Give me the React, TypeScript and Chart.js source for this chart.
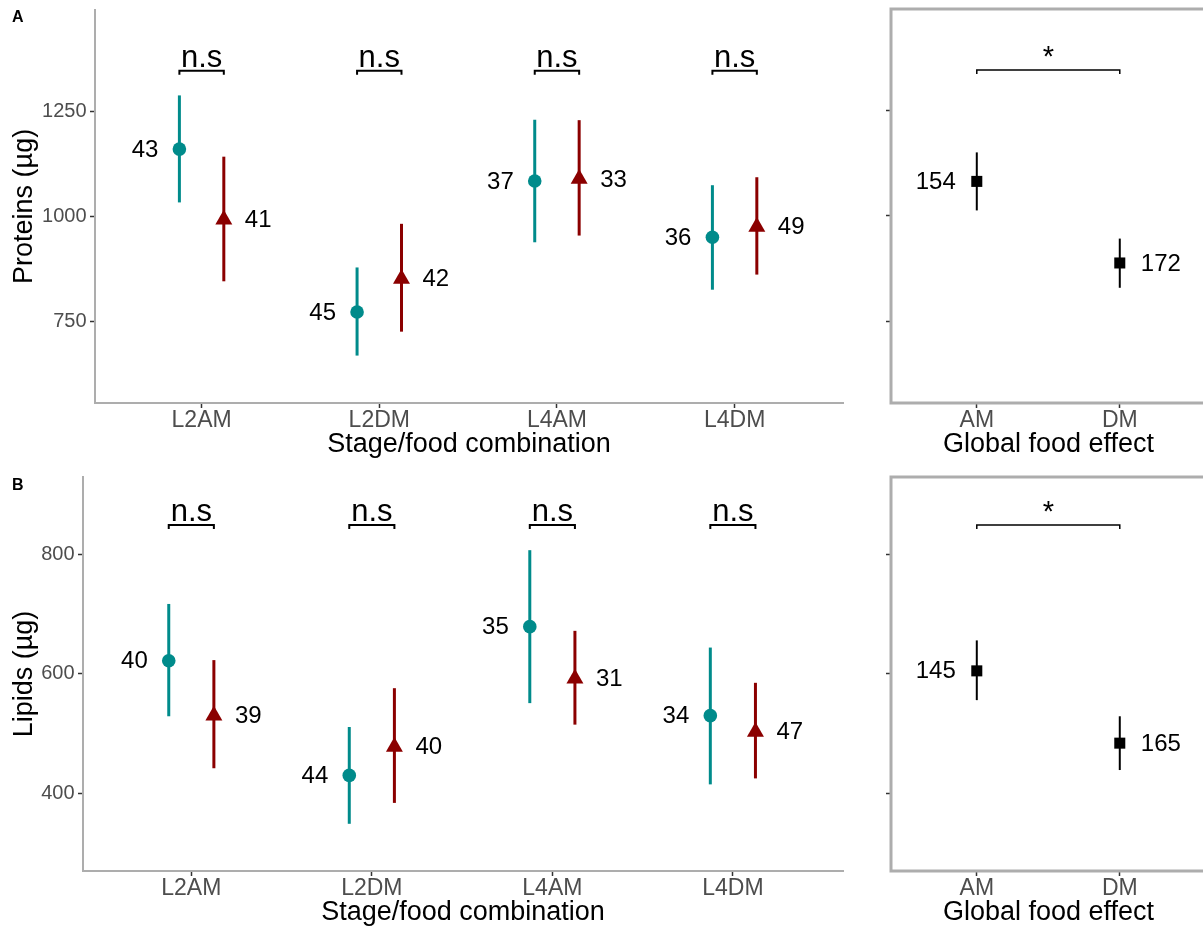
import React, { useEffect, useRef } from 'react';
import { Chart, registerables } from 'chart.js';

Chart.register(...registerables);

const FONT = '"Liberation Sans", Arial, Helvetica, sans-serif';
const TEAL = '#008B8B';
const DARKRED = '#8B0000';
const BLACK = '#000000';

// ---------------- data ----------------
const stageCategories = ['L2AM', 'L2DM', 'L4AM', 'L4DM'];
const foodCategories = ['AM', 'DM'];

const proteinTicks = [750, 1000, 1250];
const lipidTicks = [400, 600, 800];

// Proteins by stage/food combination — teal circles
const proteinTealMean = [1160, 772, 1084, 950];
const proteinTealLow = [1033, 668, 938, 825];
const proteinTealHigh = [1288, 878, 1230, 1074];
const proteinTealN = [43, 45, 37, 36];
// Proteins by stage/food combination — dark red triangles
const proteinRedMean = [992, 851, 1089, 975];
const proteinRedLow = [845, 725, 954, 861];
const proteinRedHigh = [1142, 982, 1229, 1093];
const proteinRedN = [41, 42, 33, 49];
// Proteins, global food effect
const proteinFoodMean = [1082, 888];
const proteinFoodLow = [1013, 829];
const proteinFoodHigh = [1151, 946];
const proteinFoodN = [154, 172];

// Lipids by stage/food combination — teal circles
const lipidTealMean = [622, 430, 679, 530];
const lipidTealLow = [529, 349, 551, 415];
const lipidTealHigh = [717, 511, 807, 644];
const lipidTealN = [40, 44, 35, 34];
// Lipids by stage/food combination — dark red triangles
const lipidRedMean = [530, 478, 592, 503];
const lipidRedLow = [442, 384, 515, 425];
const lipidRedHigh = [623, 576, 672, 585];
const lipidRedN = [39, 40, 31, 47];
// Lipids, global food effect
const lipidFoodMean = [605, 484];
const lipidFoodLow = [556, 439];
const lipidFoodHigh = [656, 529];
const lipidFoodN = [145, 165];

// significance annotations
const stageSignif = ['n.s', 'n.s', 'n.s', 'n.s'];
const foodSignif = ['*'];
const proteinBracketY = 1347;
const lipidBracketY = 849;

const proteinRange = [555, 1492];
const lipidRange = [270, 929.5];

// ---------------- chart builder ----------------
type Series = {
  mean: number[];
  low: number[];
  high: number[];
  n: number[];
  color: string;
  shape: string;
  radius: number;
  offset: number;
  barWidth: number;
  sides: ('left' | 'right')[];
};

type Spec = {
  categories: string[];
  series: Series[];
  yRange: number[];
  yTicks: number[];
  xMin: number;
  xMax: number;
  yTitle?: string;
  xTitle: string;
  box: boolean;
  bracketY: number;
  bracketPairs: number[][];
  bracketTexts: string[];
  bracketLineWidth: number;
  bracketFont: number;
  letter?: string;
  letterY?: number;
  top: number;
  right: number;
  yAxisWidth: number;
  xAxisHeight: number;
  xTitlePad: number;
};

function buildChart(canvas: HTMLCanvasElement, spec: Spec) {
  const datasets = spec.series.map((s) => ({
    data: s.mean.map((v, i) => ({ x: i + 1 + s.offset, y: v })),
    pointStyle: s.shape,
    pointRadius: s.radius,
    pointHoverRadius: s.radius,
    backgroundColor: s.color,
    borderColor: s.color,
    borderWidth: 0,
    showLine: false,
    clip: false,
  }));

  const overlay = {
    id: 'overlay',
    beforeDatasetsDraw(chart: any) {
      const { ctx, chartArea: a } = chart;
      const x = chart.scales.x;
      const y = chart.scales.y;
      ctx.save();
      if (spec.box) {
        ctx.strokeStyle = '#ADADAD';
        ctx.lineWidth = 3;
        ctx.strokeRect(a.left, a.top, a.right - a.left, a.bottom - a.top);
      }
      ctx.lineCap = 'butt';
      for (const s of spec.series) {
        ctx.strokeStyle = s.color;
        ctx.lineWidth = s.barWidth;
        s.mean.forEach((_, i) => {
          const px = x.getPixelForValue(i + 1 + s.offset);
          ctx.beginPath();
          ctx.moveTo(px, y.getPixelForValue(s.low[i]));
          ctx.lineTo(px, y.getPixelForValue(s.high[i]));
          ctx.stroke();
        });
      }
      ctx.restore();
    },
    afterDatasetsDraw(chart: any) {
      const { ctx } = chart;
      const x = chart.scales.x;
      const y = chart.scales.y;
      ctx.save();
      // counts
      ctx.fillStyle = BLACK;
      ctx.font = `24px ${FONT}`;
      ctx.textBaseline = 'middle';
      for (const s of spec.series) {
        s.mean.forEach((v, i) => {
          const px = x.getPixelForValue(i + 1 + s.offset);
          const py = y.getPixelForValue(v);
          if (s.sides[i] === 'left') {
            ctx.textAlign = 'right';
            ctx.fillText(String(s.n[i]), px - 21, py + 1);
          } else {
            ctx.textAlign = 'left';
            ctx.fillText(String(s.n[i]), px + 21, py + 1);
          }
        });
      }
      // brackets
      const yb = y.getPixelForValue(spec.bracketY);
      ctx.strokeStyle = BLACK;
      ctx.lineWidth = spec.bracketLineWidth;
      ctx.font = `${spec.bracketFont}px ${FONT}`;
      ctx.textAlign = 'center';
      ctx.textBaseline = 'alphabetic';
      spec.bracketPairs.forEach((p, i) => {
        const x1 = x.getPixelForValue(p[0]);
        const x2 = x.getPixelForValue(p[1]);
        ctx.beginPath();
        ctx.moveTo(x1, yb + 4);
        ctx.lineTo(x1, yb);
        ctx.lineTo(x2, yb);
        ctx.lineTo(x2, yb + 4);
        ctx.stroke();
        ctx.fillText(spec.bracketTexts[i], (x1 + x2) / 2, yb - 4);
      });
      // panel letter
      if (spec.letter) {
        ctx.font = `bold 16px ${FONT}`;
        ctx.textAlign = 'left';
        ctx.fillText(spec.letter, 12, spec.letterY);
      }
      ctx.restore();
    },
  };

  return new Chart(canvas, {
    type: 'scatter',
    data: { datasets: datasets as any },
    options: {
      responsive: false,
      animation: false,
      events: [],
      layout: { padding: { left: 0, top: spec.top, right: spec.right, bottom: 0 } },
      plugins: { legend: { display: false }, tooltip: { enabled: false } },
      scales: {
        x: {
          type: 'linear',
          min: spec.xMin,
          max: spec.xMax,
          afterBuildTicks: (sc: any) => {
            sc.ticks = spec.categories.map((_, i) => ({ value: i + 1 }));
          },
          afterFit: (sc: any) => {
            sc.height = spec.xAxisHeight;
            sc.paddingLeft = 0;
            sc.paddingRight = 0;
          },
          ticks: {
            callback: (_v: any, i: number) => spec.categories[i] ?? '',
            font: { family: FONT, size: 23, lineHeight: 1 },
            color: '#4D4D4D',
            padding: 1,
            autoSkip: false,
            maxRotation: 0,
          },
          grid: {
            drawOnChartArea: false,
            drawTicks: true,
            tickLength: 5,
            tickColor: '#333333',
            tickWidth: 1.5,
          },
          border: { display: !spec.box, color: '#ADADAD', width: 2 },
          title: {
            display: true,
            text: spec.xTitle,
            color: BLACK,
            font: { family: FONT, size: 27, lineHeight: 1.2 },
            padding: { top: 0, bottom: spec.xTitlePad },
          },
        },
        y: {
          type: 'linear',
          min: spec.yRange[0],
          max: spec.yRange[1],
          afterBuildTicks: (sc: any) => {
            sc.ticks = spec.yTicks.map((v) => ({ value: v }));
          },
          afterFit: (sc: any) => {
            sc.width = spec.yAxisWidth;
            sc.paddingTop = 0;
            sc.paddingBottom = 0;
          },
          ticks: {
            callback: (v: any) => (spec.yTitle ? String(v) : ''),
            font: { family: FONT, size: 20 },
            color: '#4D4D4D',
            padding: 3.5,
          },
          grid: {
            drawOnChartArea: false,
            drawTicks: true,
            tickLength: 5,
            tickColor: '#333333',
            tickWidth: 1.5,
          },
          border: { display: !spec.box, color: '#ADADAD', width: 2 },
          title: {
            display: !!spec.yTitle,
            text: spec.yTitle ?? '',
            color: BLACK,
            font: { family: FONT, size: 27, lineHeight: 1.2 },
            padding: { top: 8, bottom: 0 },
          },
        },
      },
    } as any,
    plugins: [overlay as any],
  });
}

function stageSeries(
  tMean: number[], tLow: number[], tHigh: number[], tN: number[],
  rMean: number[], rLow: number[], rHigh: number[], rN: number[]
): Series[] {
  return [
    { mean: tMean, low: tLow, high: tHigh, n: tN, color: TEAL, shape: 'circle', radius: 6.8, offset: -0.125, barWidth: 3, sides: tMean.map(() => 'left') as any },
    { mean: rMean, low: rLow, high: rHigh, n: rN, color: DARKRED, shape: 'triangle', radius: 9.8, offset: 0.125, barWidth: 3, sides: rMean.map(() => 'right') as any },
  ];
}

function foodSeries(mean: number[], low: number[], high: number[], n: number[]): Series[] {
  return [
    { mean, low, high, n, color: BLACK, shape: 'rect', radius: 7.8, offset: 0, barWidth: 2, sides: ['left', 'right'] },
  ];
}

const stagePairs = stageCategories.map((_, i) => [i + 1 - 0.125, i + 1 + 0.125]);
const foodPairs = [[1, 2]];

const specs: { spec: Spec; left: number; top: number; width: number; height: number }[] = [
  {
    left: 0, top: 0, width: 860, height: 465,
    spec: {
      categories: stageCategories,
      series: stageSeries(proteinTealMean, proteinTealLow, proteinTealHigh, proteinTealN, proteinRedMean, proteinRedLow, proteinRedHigh, proteinRedN),
      yRange: proteinRange, yTicks: proteinTicks, xMin: 0.4, xMax: 4.61,
      yTitle: 'Proteins (µg)', xTitle: 'Stage/food combination', box: false,
      bracketY: proteinBracketY, bracketPairs: stagePairs, bracketTexts: stageSignif, bracketLineWidth: 2, bracketFont: 31,
      letter: 'A', letterY: 21.5,
      top: 9, right: 17, yAxisWidth: 95, xAxisHeight: 62, xTitlePad: 4,
    },
  },
  {
    left: 860, top: 0, width: 360, height: 465,
    spec: {
      categories: foodCategories,
      series: foodSeries(proteinFoodMean, proteinFoodLow, proteinFoodHigh, proteinFoodN),
      yRange: proteinRange, yTicks: proteinTicks, xMin: 0.4, xMax: 2.603,
      xTitle: 'Global food effect', box: true,
      bracketY: proteinBracketY, bracketPairs: foodPairs, bracketTexts: foodSignif, bracketLineWidth: 1.5, bracketFont: 29,
      top: 9, right: 14, yAxisWidth: 31, xAxisHeight: 62, xTitlePad: 4,
    },
  },
  {
    left: 0, top: 465, width: 860, height: 470,
    spec: {
      categories: stageCategories,
      series: stageSeries(lipidTealMean, lipidTealLow, lipidTealHigh, lipidTealN, lipidRedMean, lipidRedLow, lipidRedHigh, lipidRedN),
      yRange: lipidRange, yTicks: lipidTicks, xMin: 0.4, xMax: 4.61,
      yTitle: 'Lipids (µg)', xTitle: 'Stage/food combination', box: false,
      bracketY: lipidBracketY, bracketPairs: stagePairs, bracketTexts: stageSignif, bracketLineWidth: 2, bracketFont: 31,
      letter: 'B', letterY: 25,
      top: 12, right: 17, yAxisWidth: 83, xAxisHeight: 64, xTitlePad: 6,
    },
  },
  {
    left: 860, top: 465, width: 360, height: 470,
    spec: {
      categories: foodCategories,
      series: foodSeries(lipidFoodMean, lipidFoodLow, lipidFoodHigh, lipidFoodN),
      yRange: lipidRange, yTicks: lipidTicks, xMin: 0.4, xMax: 2.603,
      xTitle: 'Global food effect', box: true,
      bracketY: lipidBracketY, bracketPairs: foodPairs, bracketTexts: foodSignif, bracketLineWidth: 1.5, bracketFont: 29,
      top: 12, right: 14, yAxisWidth: 31, xAxisHeight: 64, xTitlePad: 6,
    },
  },
];

function Panel(props: { spec: Spec; left: number; top: number; width: number; height: number }) {
  const ref = useRef<HTMLCanvasElement>(null);
  useEffect(() => {
    if (!ref.current) return;
    const chart = buildChart(ref.current, props.spec);
    return () => chart.destroy();
  }, []);
  return (
    <canvas
      ref={ref}
      width={props.width}
      height={props.height}
      style={{ position: 'absolute', left: props.left, top: props.top, width: props.width, height: props.height }}
    />
  );
}

export default function App() {
  return (
    <div style={{ position: 'absolute', left: 0, top: 0, width: 1203, height: 935, background: '#ffffff', overflow: 'hidden' }}>
      {specs.map((p, i) => (
        <Panel key={i} {...p} />
      ))}
    </div>
  );
}
